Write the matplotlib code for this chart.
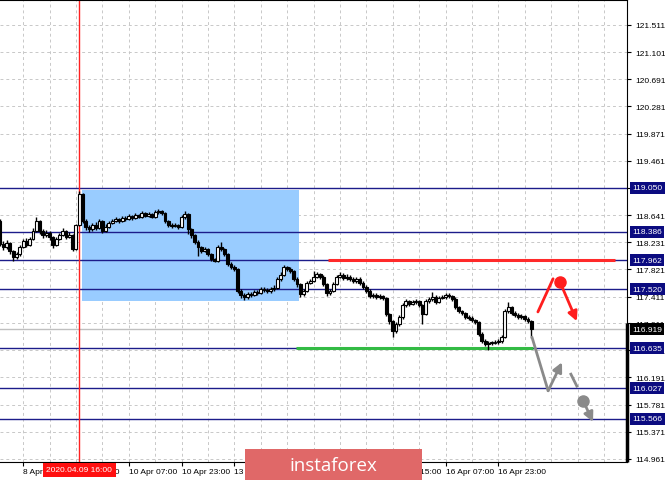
import matplotlib
matplotlib.use("Agg")
import matplotlib.pyplot as plt
import matplotlib.transforms as mtransforms
from matplotlib.patches import Rectangle
import numpy as np

# ---------------- data ----------------
first_open = 118.55
closes = [118.21, 118.16, 118.22, 118.10, 118.01, 118.05, 118.16, 118.25, 118.19, 118.28,
          118.40, 118.55, 118.40, 118.34, 118.37, 118.31, 118.19, 118.28, 118.34, 118.40,
          118.31, 118.34, 118.13, 118.49, 118.96, 118.55, 118.46, 118.43, 118.49, 118.45,
          118.55, 118.40, 118.46, 118.52, 118.55, 118.58, 118.55, 118.60, 118.58, 118.63,
          118.60, 118.64, 118.61, 118.67, 118.63, 118.66, 118.61, 118.69, 118.70, 118.67,
          118.55, 118.49, 118.48, 118.49, 118.46, 118.61, 118.66, 118.43, 118.34, 118.24,
          118.16, 118.10, 118.13, 118.05, 117.98, 117.95, 118.16, 118.13, 118.05, 117.90,
          117.86, 117.83, 117.50, 117.44, 117.41, 117.45, 117.44, 117.48, 117.47, 117.53,
          117.51, 117.50, 117.53, 117.54, 117.68, 117.74, 117.86, 117.83, 117.80, 117.68,
          117.60, 117.45, 117.50, 117.62, 117.65, 117.71, 117.75, 117.71, 117.60, 117.47,
          117.50, 117.60, 117.71, 117.74, 117.69, 117.71, 117.68, 117.65, 117.68, 117.62,
          117.56, 117.50, 117.42, 117.44, 117.41, 117.42, 117.39, 117.15, 117.04, 116.89,
          117.00, 117.10, 117.28, 117.34, 117.30, 117.33, 117.34, 117.28, 117.15, 117.34,
          117.38, 117.41, 117.33, 117.39, 117.41, 117.44, 117.42, 117.38, 117.25, 117.19,
          117.16, 117.10, 117.09, 117.06, 117.03, 116.85, 116.74, 116.70, 116.71, 116.71,
          116.73, 116.74, 116.80, 117.19, 117.25, 117.16, 117.13, 117.10, 117.12, 117.07,
          117.04, 116.92]
highs = [118.58, 118.25, 118.26, 118.24, 118.12, 118.09, 118.19, 118.28, 118.29, 118.31,
         118.44, 118.61, 118.57, 118.43, 118.41, 118.40, 118.33, 118.31, 118.37, 118.44,
         118.42, 118.38, 118.36, 118.51, 119.00, 118.98, 118.58, 118.49, 118.52, 118.53,
         118.58, 118.57, 118.50, 118.55, 118.58, 118.61, 118.60, 118.63, 118.62, 118.66,
         118.65, 118.67, 118.66, 118.70, 118.69, 118.69, 118.68, 118.72, 118.73, 118.72,
         118.69, 118.57, 118.52, 118.52, 118.51, 118.65, 118.70, 118.68, 118.45, 118.36,
         118.26, 118.18, 118.16, 118.15, 118.07, 118.00, 118.19, 118.24, 118.15, 118.07,
         117.93, 117.89, 117.85, 117.53, 117.47, 117.48, 117.48, 117.51, 117.51, 117.56,
         117.55, 117.54, 117.56, 117.58, 117.71, 117.78, 117.89, 117.88, 117.86, 117.82,
         117.70, 117.62, 117.53, 117.65, 117.68, 117.80, 117.78, 117.77, 117.73, 117.62,
         117.53, 117.63, 117.74, 117.78, 117.76, 117.75, 117.73, 117.71, 117.71, 117.70,
         117.64, 117.58, 117.52, 117.47, 117.46, 117.45, 117.44, 117.41, 117.17, 117.06,
         117.03, 117.13, 117.31, 117.37, 117.36, 117.36, 117.37, 117.36, 117.30, 117.37,
         117.41, 117.48, 117.43, 117.42, 117.44, 117.47, 117.46, 117.44, 117.40, 117.27,
         117.21, 117.18, 117.13, 117.12, 117.08, 117.05, 116.87, 116.77, 116.74, 116.74,
         116.76, 116.77, 116.83, 117.22, 117.33, 117.27, 117.19, 117.16, 117.15, 117.14,
         117.10, 117.06]
lows = [118.17, 118.12, 118.13, 118.06, 117.95, 117.98, 118.03, 118.14, 118.16, 118.17,
        118.26, 118.38, 118.36, 118.30, 118.31, 118.27, 118.15, 118.17, 118.26, 118.32,
        118.28, 118.29, 118.10, 118.11, 118.47, 118.52, 118.42, 118.39, 118.40, 118.42,
        118.43, 118.37, 118.38, 118.44, 118.50, 118.53, 118.52, 118.53, 118.55, 118.56,
        118.57, 118.58, 118.59, 118.59, 118.61, 118.61, 118.59, 118.59, 118.66, 118.64,
        118.52, 118.46, 118.45, 118.46, 118.43, 118.44, 118.58, 118.35, 118.30, 118.21,
        118.02, 118.07, 118.08, 118.02, 117.95, 117.93, 117.93, 118.10, 118.02, 117.87,
        117.83, 117.80, 117.46, 117.39, 117.36, 117.38, 117.40, 117.42, 117.43, 117.45,
        117.48, 117.47, 117.47, 117.50, 117.52, 117.65, 117.72, 117.79, 117.77, 117.65,
        117.56, 117.40, 117.42, 117.48, 117.60, 117.63, 117.69, 117.68, 117.57, 117.42,
        117.44, 117.48, 117.58, 117.69, 117.66, 117.66, 117.65, 117.62, 117.62, 117.59,
        117.53, 117.47, 117.39, 117.39, 117.37, 117.38, 117.36, 117.12, 117.00, 116.80,
        116.86, 116.97, 117.08, 117.26, 117.27, 117.28, 117.30, 117.25, 117.00, 117.13,
        117.31, 117.35, 117.30, 117.31, 117.37, 117.38, 117.39, 117.35, 117.22, 117.16,
        117.13, 117.07, 117.06, 117.03, 117.00, 116.82, 116.71, 116.67, 116.60, 116.68,
        116.69, 116.70, 116.71, 116.78, 117.16, 117.13, 117.10, 117.07, 117.08, 117.04,
        117.01, 116.78]

price_ticks = [121.511, 121.101, 120.691, 120.281, 119.871, 119.461, 119.050, 118.641,
               118.231, 117.821, 117.411, 117.011, 116.601, 116.191, 115.781, 115.371, 114.961]
levels = [119.050, 118.386, 117.962, 117.520, 116.635, 116.027, 115.566]
current_price = 116.919

time_tick_idx = [-9, 7, 23, 39, 55, 71, 87, 103, 119, 135, 151]
time_tick_labels = ["8 Apr 07:00", "8 Apr 23:00", "9 Apr 15:00", "10 Apr 07:00", "10 Apr 23:00",
                    "13 Apr 15:00", "14 Apr 07:00", "14 Apr 23:00", "15 Apr 15:00",
                    "16 Apr 07:00", "16 Apr 23:00"]
marker_idx = 24
marker_label = "2020.04.09 16:00"

zone_x = [24.8, 90.6]
zone_y = [117.345, 119.02]
resistance = dict(x=[99.4, 186.5], y=117.962)
support = dict(x=[89.7, 161.5], y=116.635)

red_up = [(163.0, 117.18), (167.6, 117.68)]
red_dot = (169.7, 117.63)
red_arrow_end = (174.8, 117.04)
gray_down = [(161.2, 116.80), (166.1, 115.99)]
gray_arrow_end = (170.3, 116.42)
gray_dash = [(173.0, 116.24), (174.8, 116.06)]
gray_dot = (176.7, 115.84)
gray_arrow2_end = (179.7, 115.52)

# ---------------- figure ----------------
W, H = 665, 481
fig = plt.figure(figsize=(W / 100, H / 100), dpi=100)
fig.patch.set_facecolor("white")
ax = fig.add_axes([0, 18 / H, 627 / W, 462 / H])
ax.set_facecolor("white")

navy = "#1c1c8a"
tick_font = dict(family="Liberation Sans", size=6)

# grid / ticks
grid_pos = np.arange(-1, 191, 8)
ax.set_xticks(grid_pos, minor=True)
ax.set_xticks(time_tick_idx)
ax.set_xticklabels(time_tick_labels, ha="left", **tick_font)
ax.tick_params(axis="x", which="minor", length=0)
ax.tick_params(axis="x", which="major", length=3, pad=1.5, direction="out", color="black")
ax.set_yticks(price_ticks)
ax.set_yticklabels([f"{p:.3f}" for p in price_ticks], **tick_font)
ax.yaxis.tick_right()
ax.tick_params(axis="y", length=3, pad=3, direction="out", color="black")
ax.grid(which="both", axis="x", color="#c8c8c8", linestyle=(0, (3, 3)), linewidth=0.7, zorder=0)
ax.grid(which="major", axis="y", color="#c8c8c8", linestyle=(0, (3, 3)), linewidth=0.7, zorder=0)
ax.set_axisbelow(True)
for s in ax.spines.values():
    s.set_color("black")
    s.set_linewidth(0.8)
ax.spines["left"].set_visible(False)

# zone rectangle
ax.add_patch(Rectangle((zone_x[0], zone_y[0]), zone_x[1] - zone_x[0], zone_y[1] - zone_y[0],
                       facecolor="#99ccff", edgecolor="none", zorder=1))

# current price line
ax.axhline(current_price, color="#c0c0c0", lw=1, zorder=1.5)

# level lines
for lv in levels:
    ax.axhline(lv, color=navy, lw=1, zorder=2)

# red vertical marker
ax.axvline(marker_idx, color="#ff2020", lw=1, zorder=2)

# resistance / support
ax.plot(resistance["x"], [resistance["y"]] * 2, color="#ff2a2a", lw=2.2, zorder=2.6,
        solid_capstyle="butt")
ax.plot(support["x"], [support["y"]] * 2, color="#33bb44", lw=2.2, zorder=2.6,
        solid_capstyle="butt")

# candles
opens = [first_open] + closes[:-1]
idx = np.arange(len(closes))
o = np.array(opens); c = np.array(closes); hi = np.array(highs); lo = np.array(lows)
ax.vlines(idx, lo, hi, color="black", lw=1.0, zorder=3)
bull = c >= o
bot = np.minimum(o, c)
hgt = np.maximum(np.abs(c - o), 0.01)
ax.bar(idx[bull], hgt[bull], bottom=bot[bull], width=0.85, facecolor="white",
       edgecolor="black", linewidth=0.8, zorder=3.2)
ax.bar(idx[~bull], hgt[~bull], bottom=bot[~bull], width=0.85, facecolor="black",
       edgecolor="black", linewidth=0.8, zorder=3.2)

# forecast arrows
red = "#ff1e1e"
gray = "#8a8a8a"
ax.plot(*zip(*red_up), color=red, lw=2, zorder=5, solid_capstyle="round")
ax.plot(*red_dot, "o", color=red, ms=8, zorder=5)
ax.annotate("", xy=red_arrow_end, xytext=red_dot,
            arrowprops=dict(arrowstyle="-|>", color=red, lw=2, mutation_scale=14,
                            shrinkA=0, shrinkB=0), zorder=5)
ax.plot(*zip(*gray_down), color=gray, lw=2, zorder=5, solid_capstyle="round")
ax.annotate("", xy=gray_arrow_end, xytext=gray_down[1],
            arrowprops=dict(arrowstyle="-|>", color=gray, lw=2, mutation_scale=14,
                            shrinkA=0, shrinkB=0), zorder=5)
ax.plot(*zip(*gray_dash), color=gray, lw=2, zorder=5)
ax.plot(*gray_dot, "o", color=gray, ms=8, zorder=5)
ax.annotate("", xy=gray_arrow2_end, xytext=gray_dot,
            arrowprops=dict(arrowstyle="-|>", color=gray, lw=2, mutation_scale=14,
                            shrinkA=0, shrinkB=0), zorder=5)

# limits (after ticks so they are not widened)
ax.set_xlim(0, 627 / 3.3)
ax.set_ylim(114.915, 121.887)

# thick black segment at right edge
ax.plot([1.0, 1.0], [0.0, 0.30], transform=ax.transAxes, color="black", lw=2.5,
        clip_on=False, zorder=6, solid_capstyle="butt")

# level labels on price scale
trans_y = mtransforms.blended_transform_factory(ax.transAxes, ax.transData)
for lv in levels:
    ax.text(1.0 + 5 / 627, lv, f"{lv:.3f}", transform=trans_y, ha="left", va="center",
            color="white", fontsize=6, family="Liberation Sans", clip_on=False, zorder=10,
            bbox=dict(boxstyle="square,pad=0.3", facecolor="#0b0b80", edgecolor="none"))
ax.text(1.0 + 5 / 627, current_price, f"{current_price:.3f}", transform=trans_y, ha="left",
        va="center", color="white", fontsize=6, family="Liberation Sans", clip_on=False,
        zorder=10, bbox=dict(boxstyle="square,pad=0.3", facecolor="black", edgecolor="none"))

# red time label
trans_x = mtransforms.blended_transform_factory(ax.transData, ax.transAxes)
ax.text(marker_idx, -8 / 462, marker_label, transform=trans_x, ha="center", va="center",
        color="white", fontsize=6, family="Liberation Sans", clip_on=False, zorder=10,
        bbox=dict(boxstyle="square,pad=0.45", facecolor="#ff1010", edgecolor="none"))

# watermark
fig.patches.append(Rectangle((245 / W, 0), 177 / W, 31 / H, transform=fig.transFigure,
                             facecolor="#e06868", edgecolor="none", zorder=20))
fig.text(333 / W, 15 / H, "instaforex", ha="center", va="center", color="white",
         fontsize=13.5, family="Open Sans", zorder=21)

fig.savefig("out.png", dpi=100, facecolor="white")
